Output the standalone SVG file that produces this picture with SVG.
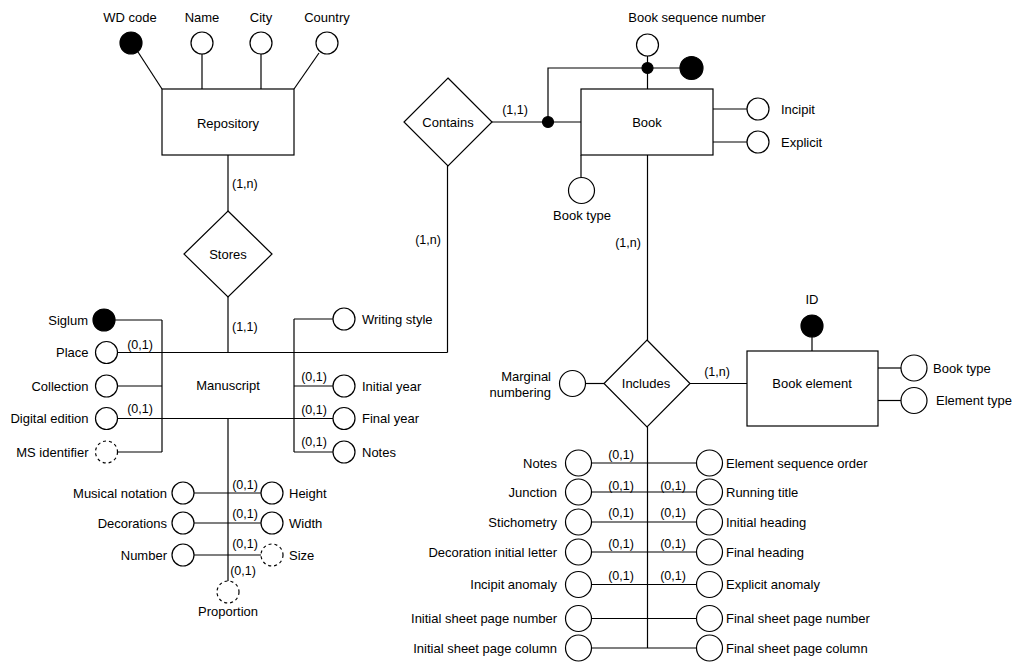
<svg xmlns="http://www.w3.org/2000/svg" width="1016" height="662" viewBox="0 0 1016 662">
<style>
text{font-family:"Liberation Sans",Arial,sans-serif;font-size:13px;fill:#000}
.m{text-anchor:middle}.e{text-anchor:end}
.c{font-size:12.5px}
.ln{stroke:#000;stroke-width:1.2;fill:none}
.a{fill:#fff;stroke:#000;stroke-width:1.2}
.k{fill:#000;stroke:#000;stroke-width:1.2}
.d{fill:#fff;stroke:#000;stroke-width:1.2;stroke-dasharray:3 3}
.box{fill:#fff;stroke:#000;stroke-width:1.2}
</style>
<rect width="1016" height="662" fill="#fff"/>
<g id="connectors" class="ln">
<!-- Repository attributes -->
<line x1="138" y1="52" x2="162" y2="89"/>
<line x1="202" y1="54" x2="202" y2="89"/>
<line x1="261" y1="54" x2="261" y2="89"/>
<line x1="319" y1="53" x2="294" y2="89"/>
<!-- Repository - Stores - Manuscript -->
<line x1="228" y1="155" x2="228" y2="211"/>
<line x1="228" y1="297" x2="228" y2="352.5"/>
<!-- Manuscript frame lines -->
<line x1="115" y1="320" x2="162" y2="320"/>
<line x1="162" y1="320" x2="162" y2="452"/>
<line x1="117.5" y1="352.5" x2="447.5" y2="352.5"/>
<line x1="117.5" y1="386" x2="162" y2="386"/>
<line x1="117.5" y1="418.5" x2="294" y2="418.5"/>
<line x1="117.5" y1="452" x2="162" y2="452"/>
<line x1="294" y1="319" x2="294" y2="452"/>
<line x1="294" y1="319" x2="333" y2="319"/>
<line x1="294" y1="386" x2="333" y2="386"/>
<line x1="294" y1="418.5" x2="333" y2="418.5"/>
<line x1="294" y1="452" x2="333" y2="452"/>
<!-- Manuscript - Contains -->
<line x1="447.5" y1="352.5" x2="447.5" y2="166"/>
<!-- Manuscript bottom attributes -->
<line x1="228" y1="418.5" x2="228" y2="581"/>
<line x1="194" y1="493" x2="261" y2="493"/>
<line x1="194" y1="523" x2="261" y2="523"/>
<line x1="194" y1="555" x2="261" y2="555"/>
<!-- Contains - Book -->
<line x1="492" y1="122" x2="581" y2="122"/>
<polyline points="548,122 548,68 680,68"/>
<line x1="647.5" y1="56" x2="647.5" y2="89"/>
<!-- Book attributes -->
<line x1="713" y1="109" x2="747" y2="109"/>
<line x1="713" y1="142" x2="747" y2="142"/>
<line x1="581" y1="155" x2="581" y2="177"/>
<!-- Book - Includes -->
<line x1="647.5" y1="155" x2="647.5" y2="340"/>
<line x1="586" y1="383.5" x2="604" y2="383.5"/>
<line x1="690" y1="383.5" x2="747" y2="383.5"/>
<!-- Book element attributes -->
<line x1="812" y1="337" x2="812" y2="351"/>
<line x1="878" y1="368" x2="901" y2="368"/>
<line x1="878" y1="400.5" x2="901" y2="400.5"/>
<!-- Includes attributes -->
<line x1="647.5" y1="427" x2="647.5" y2="648"/>
<line x1="591" y1="463" x2="696" y2="463"/>
<line x1="591" y1="492" x2="696" y2="492"/>
<line x1="591" y1="522" x2="696" y2="522"/>
<line x1="591" y1="552" x2="696" y2="552"/>
<line x1="591" y1="584.5" x2="696" y2="584.5"/>
<line x1="591" y1="618.5" x2="696" y2="618.5"/>
<line x1="591" y1="648" x2="696" y2="648"/>
</g>
<g id="repository">
<rect class="box" x="162" y="89" width="132" height="66"/>
<text class="m" x="228" y="128">Repository</text>
</g>
<g id="repo-attrs">
<circle class="k" cx="131" cy="43" r="11"/>
<text class="m" x="130" y="22">WD code</text>
<circle class="a" cx="202" cy="43" r="11"/>
<text class="m" x="202" y="22">Name</text>
<circle class="a" cx="261" cy="43" r="11"/>
<text class="m" x="261" y="22">City</text>
<circle class="a" cx="327" cy="43" r="11"/>
<text class="m" x="327" y="22">Country</text>
</g>
<g id="stores">
<polygon class="box" points="228,211 272,254 228,297 184,254"/>
<text class="m" x="228" y="258.5">Stores</text>
<text class="c" x="232" y="187.5">(1,n)</text>
<text class="c" x="232" y="331">(1,1)</text>
</g>
<g id="manuscript">
<text class="m" x="228" y="390">Manuscript</text>
</g>
<g id="ms-attrs">
<circle class="k" cx="104" cy="320" r="11"/>
<text class="e" x="88" y="324.5">Siglum</text>
<circle class="a" cx="106.5" cy="352.5" r="11"/>
<text class="e" x="88.5" y="357">Place</text>
<text class="c m" x="140" y="348.5">(0,1)</text>
<circle class="a" cx="106.5" cy="386" r="11"/>
<text class="e" x="88.5" y="390.5">Collection</text>
<circle class="a" cx="106.5" cy="418.5" r="11"/>
<text class="e" x="88.5" y="423">Digital edition</text>
<text class="c m" x="140" y="413">(0,1)</text>
<circle class="d" cx="106.5" cy="452" r="11"/>
<text class="e" x="88.5" y="456.5">MS identifier</text>
<circle class="a" cx="344" cy="319" r="11"/>
<text x="362" y="323.5">Writing style</text>
<circle class="a" cx="344" cy="386" r="11"/>
<text x="362" y="390.5">Initial year</text>
<text class="c m" x="314" y="381">(0,1)</text>
<circle class="a" cx="344" cy="418.5" r="11"/>
<text x="362" y="423">Final year</text>
<text class="c m" x="314" y="413.5">(0,1)</text>
<circle class="a" cx="344" cy="452" r="11"/>
<text x="362" y="456.5">Notes</text>
<text class="c m" x="314" y="446">(0,1)</text>
<circle class="a" cx="183" cy="493" r="11"/>
<text class="e" x="167" y="497.5">Musical notation</text>
<circle class="a" cx="272" cy="493" r="11"/>
<text x="289" y="497.5">Height</text>
<text class="c m" x="245" y="488.5">(0,1)</text>
<circle class="a" cx="183" cy="523" r="11"/>
<text class="e" x="167" y="527.5">Decorations</text>
<circle class="a" cx="272" cy="523" r="11"/>
<text x="289" y="527.5">Width</text>
<text class="c m" x="245" y="518">(0,1)</text>
<circle class="a" cx="183" cy="555" r="11"/>
<text class="e" x="167" y="559.5">Number</text>
<circle class="d" cx="272" cy="555" r="11"/>
<text x="289" y="559.5">Size</text>
<text class="c m" x="245" y="547.5">(0,1)</text>
<circle class="d" cx="228" cy="592" r="11"/>
<text class="c m" x="243" y="574.5">(0,1)</text>
<text class="m" x="228" y="616">Proportion</text>
</g>
<g id="contains">
<polygon class="box" points="448,78 492,122 448,166 404,122"/>
<text class="m" x="448" y="126.5">Contains</text>
<text class="c m" x="515" y="113.5">(1,1)</text>
<text class="c m" x="428" y="243.5">(1,n)</text>
</g>
<g id="book">
<rect class="box" x="581" y="89" width="132" height="66"/>
<text class="m" x="647" y="126.5">Book</text>
</g>
<g id="book-attrs">
<circle class="k" cx="548" cy="122" r="5.5"/>
<circle class="k" cx="647.5" cy="68" r="5.5"/>
<circle class="a" cx="647.5" cy="45" r="11"/>
<text class="m" x="697" y="22">Book sequence number</text>
<circle class="k" cx="691.5" cy="68" r="11.5"/>
<circle class="a" cx="758" cy="109" r="11"/>
<text x="781" y="113.5">Incipit</text>
<circle class="a" cx="758" cy="142" r="11"/>
<text x="781" y="146.5">Explicit</text>
<circle class="a" cx="581.5" cy="190.5" r="13"/>
<text class="m" x="582" y="220">Book type</text>
<text class="c m" x="628" y="246.5">(1,n)</text>
</g>
<g id="includes">
<polygon class="box" points="647,340 690,383.5 647,427 604,383.5"/>
<text class="m" x="646" y="388">Includes</text>
<text class="c m" x="717" y="376">(1,n)</text>
</g>
<g id="book-element">
<rect class="box" x="747" y="351" width="131" height="75"/>
<text class="m" x="812" y="388">Book element</text>
<circle class="k" cx="812" cy="326" r="11"/>
<text class="m" x="812" y="304">ID</text>
<circle class="a" cx="914" cy="368" r="13"/>
<text x="933" y="372.5">Book type</text>
<circle class="a" cx="914" cy="400.5" r="13"/>
<text x="936" y="405">Element type</text>
</g>
<g id="includes-attrs">
<circle class="a" cx="572.5" cy="383.5" r="13"/>
<text class="e" x="551" y="381">Marginal</text>
<text class="e" x="551" y="397">numbering</text>
<circle class="a" cx="578.5" cy="463" r="13"/>
<text class="e" x="557" y="467.5">Notes</text>
<text class="c m" x="621" y="458.5">(0,1)</text>
<circle class="a" cx="709.5" cy="463" r="13"/>
<text x="726" y="467.5">Element sequence order</text>
<circle class="a" cx="578.5" cy="492" r="13"/>
<text class="e" x="557" y="496.5">Junction</text>
<text class="c m" x="621" y="489.5">(0,1)</text>
<circle class="a" cx="709.5" cy="492" r="13"/>
<text x="726" y="496.5">Running title</text>
<text class="c m" x="673" y="489.5">(0,1)</text>
<circle class="a" cx="578.5" cy="522" r="13"/>
<text class="e" x="557" y="526.5">Stichometry</text>
<text class="c m" x="621" y="517">(0,1)</text>
<circle class="a" cx="709.5" cy="522" r="13"/>
<text x="726" y="526.5">Initial heading</text>
<text class="c m" x="673" y="517">(0,1)</text>
<circle class="a" cx="578.5" cy="552" r="13"/>
<text class="e" x="557" y="556.5">Decoration initial letter</text>
<text class="c m" x="621" y="547.5">(0,1)</text>
<circle class="a" cx="709.5" cy="552" r="13"/>
<text x="726" y="556.5">Final heading</text>
<text class="c m" x="673" y="547.5">(0,1)</text>
<circle class="a" cx="578.5" cy="584.5" r="13"/>
<text class="e" x="557" y="589">Incipit anomaly</text>
<text class="c m" x="621" y="579.5">(0,1)</text>
<circle class="a" cx="709.5" cy="584.5" r="13"/>
<text x="726" y="589">Explicit anomaly</text>
<text class="c m" x="673" y="579.5">(0,1)</text>
<circle class="a" cx="578.5" cy="618.5" r="13"/>
<text class="e" x="557" y="623">Initial sheet page number</text>
<circle class="a" cx="709.5" cy="618.5" r="13"/>
<text x="726" y="623">Final sheet page number</text>
<circle class="a" cx="578.5" cy="648" r="13"/>
<text class="e" x="557" y="652.5">Initial sheet page column</text>
<circle class="a" cx="709.5" cy="648" r="13"/>
<text x="726" y="652.5">Final sheet page column</text>
</g>
</svg>
